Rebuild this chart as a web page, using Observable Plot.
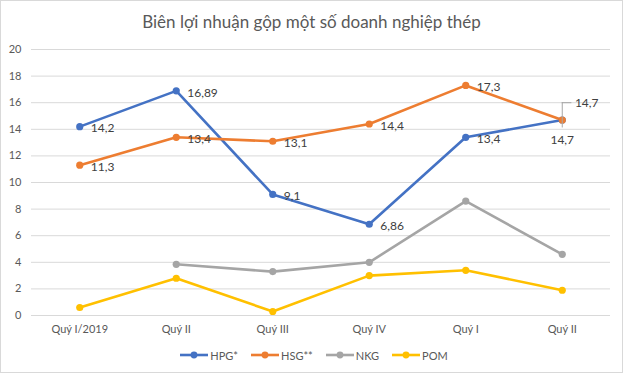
<!DOCTYPE html>
<html><head><meta charset="utf-8">
<script src="https://cdn.jsdelivr.net/npm/d3@7"></script>
<script src="https://cdn.jsdelivr.net/npm/@observablehq/plot@0.6"></script>
<style>
body{margin:0;background:#fff;font-family:Lato,"Open Sans",sans-serif;}
#wrap{box-sizing:border-box;width:623px;height:373px;border:1px solid #d9d9d9;overflow:hidden;background:#fff;}
#title{height:40px;line-height:42px;text-align:center;font-size:17px;color:#595959;}
#legend{display:flex;justify-content:center;align-items:center;gap:12px;height:30px;font-size:11px;color:#595959;padding-left:4px;}
.item{display:flex;align-items:center;gap:1px;}
svg{display:block;}
</style></head>
<body>
<div id="wrap">
<div id="title">Biên lợi nhuận gộp một số doanh nghiệp thép</div>
<div id="chart"></div>
<div id="legend"></div>
</div>
<script>
const categories = ["Quý I/2019","Quý II","Quý III","Quý IV","Quý I","Quý II"];
const seriesNames = ["HPG*","HSG**","NKG","POM"];
const seriesColors = ["#4472C4","#ED7D31","#A5A5A5","#FFC000"];
const hpg = [14.2,16.89,9.1,6.86,13.4,14.7];
const hsg = [11.3,13.4,13.1,14.4,17.3,14.7];
const nkg = [null,3.85,3.3,4.0,8.6,4.6];
const pom = [0.6,2.8,0.3,3.0,3.4,1.9];
const yTicks = [0,2,4,6,8,10,12,14,16,18,20];

const seriesValues = [hpg,hsg,nkg,pom];
const rows = [];
seriesValues.forEach((vals,s)=>vals.forEach((v,i)=>{ if(v!=null) rows.push({i, series:seriesNames[s], value:v}); }));
const fmt = v => String(v).replace(".", ",");

const labelRows = rows.filter(d => (d.series==="HPG*"||d.series==="HSG**") && d.i<5);
const last = hpg.length-1;
const hpgLast = [{i:last, value:hpg[last]}];
const hsgLast = [{i:last, value:hsg[last]}];
const lead = 1.3;

const plot = Plot.plot({
  width:621, height:299,
  marginLeft:30, marginRight:12, marginTop:8, marginBottom:25,
  style:{fontFamily:"Lato, 'Open Sans', sans-serif", fontSize:"11px", color:"#595959", background:"#fff"},
  x:{type:"linear", domain:[-0.5,5.5], axis:null, label:null},
  y:{domain:[0,20], axis:null, label:null},
  color:{domain:seriesNames, range:seriesColors},
  marks:[
    Plot.gridY(yTicks,{stroke:"#d9d9d9", strokeOpacity:1}),
    Plot.axisY(yTicks,{tickSize:0, tickPadding:10, fill:"#595959", fontSize:11, label:null}),
    Plot.axisX(d3.range(categories.length),{tickSize:0, tickPadding:10, tickFormat:i=>categories[i], fill:"#595959", fontSize:11, label:null}),
    Plot.line(rows,{x:"i", y:"value", z:"series", stroke:"series", strokeWidth:2.6}),
    Plot.dot(rows,{x:"i", y:"value", fill:"series", r:3.6}),
    Plot.text(labelRows,{x:"i", y:"value", text:d=>fmt(d.value), dx:11, dy:2, textAnchor:"start", fill:"#404040", fontSize:12}),
    Plot.ruleX(hpgLast,{x:"i", y1:d=>d.value-0.6, y2:d=>d.value+lead, stroke:"#a6a6a6", strokeWidth:1}),
    Plot.ruleY(hpgLast,{y:d=>d.value+lead, x1:"i", x2:d=>d.i+0.1, stroke:"#a6a6a6", strokeWidth:1}),
    Plot.text(hpgLast,{x:d=>d.i+0.1, y:d=>d.value+lead, text:d=>fmt(d.value), dx:3, textAnchor:"start", fill:"#404040", fontSize:12}),
    Plot.text(hsgLast,{x:"i", y:"value", text:d=>fmt(d.value), dy:20, textAnchor:"middle", fill:"#404040", fontSize:12})
  ]
});
document.getElementById("chart").appendChild(plot);

const legend = document.getElementById("legend");
seriesNames.forEach((n,k)=>{
  const it = document.createElement("div"); it.className="item";
  it.innerHTML = `<svg width="30" height="10"><line x1="1" y1="5" x2="29" y2="5" stroke="${seriesColors[k]}" stroke-width="2.6"/><circle cx="15" cy="5" r="3.4" fill="${seriesColors[k]}"/></svg><span>${n}</span>`;
  legend.appendChild(it);
});
</script>
</body></html>
